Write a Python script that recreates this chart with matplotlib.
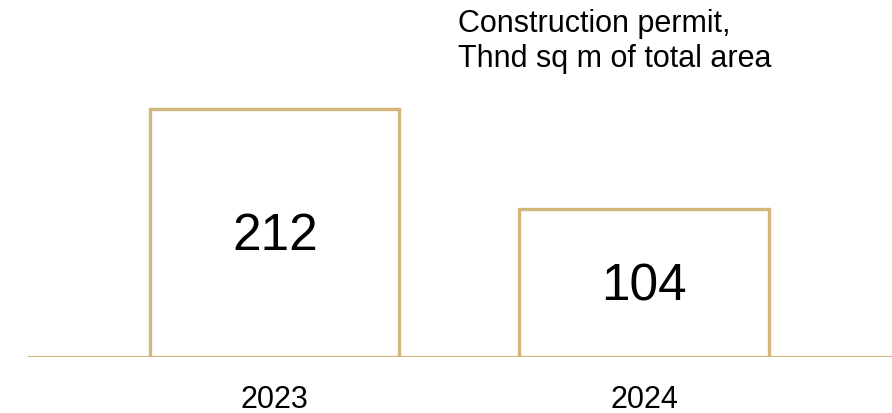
import numpy as np
import matplotlib.pyplot as plt

plt.rcParams['font.family'] = ['Liberation Sans', 'DejaVu Sans']

years = ['2023', '2024']
permits = [212, 104]
title = 'Construction permit,\nThnd sq m of total area'

gold = '#D4B57A'
base = -56  # hidden zero of the bars, sits on the baseline

fig = plt.figure(figsize=(8.92, 4.14), dpi=100)
# axes from x=28px to right edge, baseline at y=358px
ax = fig.add_axes([28 / 892, (414 - 358) / 414, 864 / 892, 268 / 414])

x = np.arange(len(years))
heights = [v - base for v in permits]
ax.bar(x, heights, bottom=base, width=0.675, facecolor='white',
       edgecolor=gold, linewidth=2.4, zorder=3)
ax.axhline(base, color=gold, linewidth=1.5, zorder=2)

for xi, v in zip(x, permits):
    ax.text(xi, (base + v) / 2 - 3, str(v), ha='center', va='center',
            fontsize=37, color='black', zorder=4)

for xi, y in zip(x, years):
    ax.text(xi, base - 45, y, ha='center', va='center', fontsize=22,
            color='black', clip_on=False)

ax.set_xlim(-0.669, 1.672)
ax.set_ylim(base, base + 289.4)
ax.axis('off')

fig.text(458 / 892, 1 - 9 / 414, title, ha='left', va='top', fontsize=22,
         linespacing=1.22, color='black')

fig.savefig('out.png', dpi=100)
